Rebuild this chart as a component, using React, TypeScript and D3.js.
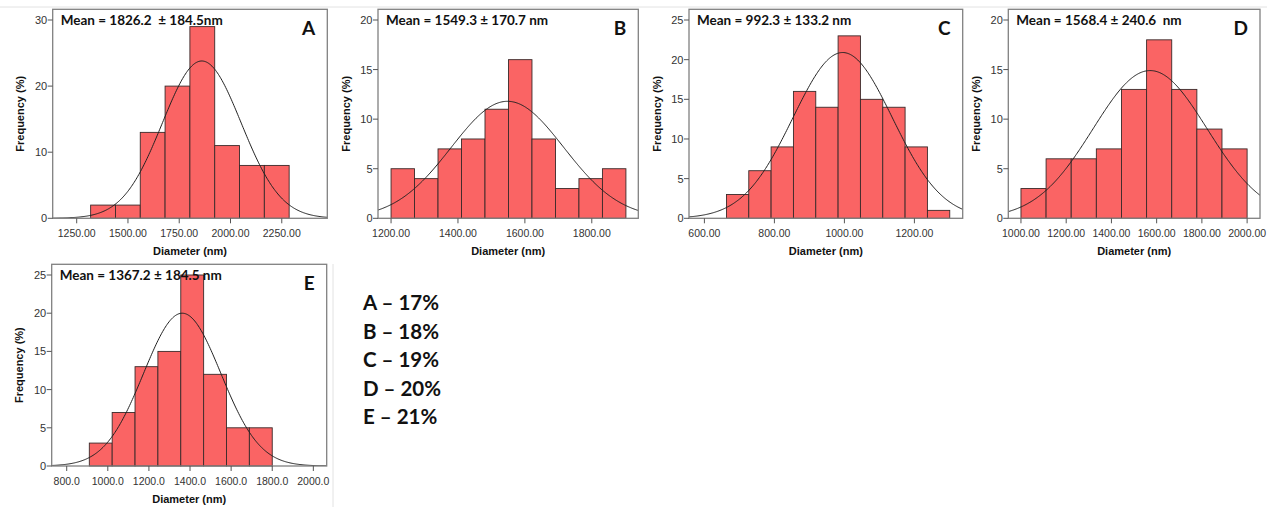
import * as d3 from "d3";

// ---- data ----
const panelIds = ["A", "B", "C", "D", "E"];
const meanLabels = [
  "Mean = 1826.2  ± 184.5nm",
  "Mean = 1549.3 ± 170.7 nm",
  "Mean = 992.3 ± 133.2 nm",
  "Mean = 1568.4 ± 240.6  nm",
  "Mean = 1367.2 ± 184.5 nm",
];

const freqA = [2, 2, 13, 20, 29, 11, 8, 8];
const freqB = [5, 4, 7, 8, 11, 16, 8, 3, 4, 5];
const freqC = [3, 6, 9, 16, 14, 23, 15, 14, 9, 1];
const freqD = [3, 6, 6, 7, 13, 18, 13, 9, 7];
const freqE = [3, 7, 13, 15, 25, 12, 5, 5];
const frequencies = [freqA, freqB, freqC, freqD, freqE];

// first / last bin edge (nm)
const binStarts = [1318, 1200, 663, 1000, 910];
const binEnds = [2286, 1902, 1301, 2000, 1800];

// fitted normal curve: centre, spread, height (%)
const curveMeans = [1860, 1548, 995, 1571, 1362];
const curveSds = [192, 168, 142, 252, 188];
const curvePeaks = [23.8, 11.8, 20.9, 14.9, 20.0];

const xDomains = [
  [1133, 2472],
  [1161, 1939],
  [556, 1338],
  [944, 2057],
  [727, 2065],
];
const xTicksA = [1250, 1500, 1750, 2000, 2250];
const xTicksB = [1200, 1400, 1600, 1800];
const xTicksC = [600, 800, 1000, 1200];
const xTicksD = [1000, 1200, 1400, 1600, 1800, 2000];
const xTicksE = [800, 1000, 1200, 1400, 1600, 1800, 2000];
const xTicks = [xTicksA, xTicksB, xTicksC, xTicksD, xTicksE];
const xTickFormats = [".2f", ".2f", ".2f", ".2f", ".1f"];

const yTicksA = [0, 10, 20, 30];
const yTicksB = [0, 5, 10, 15, 20];
const yTicksC = [0, 5, 10, 15, 20, 25];
const yTicksD = [0, 5, 10, 15, 20];
const yTicksE = [0, 5, 10, 15, 20, 25];
const yTicks = [yTicksA, yTicksB, yTicksC, yTicksD, yTicksE];

const legendLines = ["A – 17%", "B – 18%", "C – 19%", "D – 20%", "E – 21%"];

// ---- layout ----
const W = 1267;
const H = 507;
const frames = [
  { x0: 52.7, x1: 327.3, y0: 9.3, y1: 218.3 },
  { x0: 378, x1: 638.3, y0: 9.3, y1: 218.3 },
  { x0: 689, x1: 962.7, y0: 9.3, y1: 218.3 },
  { x0: 1008.3, x1: 1260, y0: 9.3, y1: 218.3 },
  { x0: 51.7, x1: 326.7, y0: 264.3, y1: 466 },
];
const barFill = "#fa6464";
const axisFont = "'Liberation Sans', Arial, sans-serif";
const labelFont = "Lato, 'Open Sans', sans-serif";

function Panel({ i }: { i: number }) {
  const f = frames[i];
  const freq = frequencies[i];
  const yMax = yTicks[i][yTicks[i].length - 1];
  const x = d3.scaleLinear().domain(xDomains[i]).range([f.x0, f.x1]);
  const y = d3.scaleLinear().domain([0, yMax]).range([f.y1, f.y0 + 10.7]);
  const binW = (binEnds[i] - binStarts[i]) / freq.length;
  const fmt = d3.format(xTickFormats[i]);

  const mu = curveMeans[i];
  const sd = curveSds[i];
  const pts = d3
    .range(0, 301)
    .map((k) => xDomains[i][0] + ((xDomains[i][1] - xDomains[i][0]) * k) / 300);
  const line = d3
    .line<number>()
    .x((d) => x(d))
    .y((d) => y(curvePeaks[i] * Math.exp(-((d - mu) ** 2) / (2 * sd * sd))));

  const clipId = `clip-${panelIds[i]}`;
  const cx = (f.x0 + f.x1) / 2;
  const cy = (f.y0 + f.y1) / 2;

  return (
    <g>
      <defs>
        <clipPath id={clipId}>
          <rect x={f.x0} y={f.y0} width={f.x1 - f.x0} height={f.y1 - f.y0} />
        </clipPath>
      </defs>
      <rect x={f.x0} y={f.y0} width={f.x1 - f.x0} height={f.y1 - f.y0} fill="#fff" />
      {freq.map((v, k) => {
        const a = binStarts[i] + k * binW;
        return (
          <rect
            key={k}
            x={x(a)}
            y={y(v)}
            width={x(a + binW) - x(a)}
            height={y(0) - y(v)}
            fill={barFill}
            stroke="#3a2a2a"
            strokeWidth={0.9}
          />
        );
      })}
      <path
        d={line(pts) ?? ""}
        fill="none"
        stroke="#222"
        strokeWidth={1}
        clipPath={`url(#${clipId})`}
      />
      <rect
        x={f.x0}
        y={f.y0}
        width={f.x1 - f.x0}
        height={f.y1 - f.y0}
        fill="none"
        stroke="#808080"
        strokeWidth={1.3}
      />
      {yTicks[i].map((t) => (
        <g key={t}>
          <line x1={f.x0 - 5} x2={f.x0} y1={y(t)} y2={y(t)} stroke="#555" />
          <text
            x={f.x0 - 5.5}
            y={y(t)}
            dy="0.36em"
            textAnchor="end"
            fontFamily={axisFont}
            fontSize={11}
            fill="#333"
          >
            {t}
          </text>
        </g>
      ))}
      {xTicks[i].map((t) => (
        <g key={t}>
          <line x1={x(t)} x2={x(t)} y1={f.y1} y2={f.y1 + 5} stroke="#555" />
          <text
            x={x(t)}
            y={f.y1 + 18.5}
            textAnchor="middle"
            fontFamily={axisFont}
            fontSize={10.5}
            fill="#333"
          >
            {fmt(t)}
          </text>
        </g>
      ))}
      <text
        x={cx}
        y={f.y1 + 36.5}
        textAnchor="middle"
        fontFamily={axisFont}
        fontWeight="bold"
        fontSize={11}
        fill="#111"
      >
        Diameter (nm)
      </text>
      <text
        transform={`translate(${f.x0 - 28.5},${cy}) rotate(-90)`}
        textAnchor="middle"
        fontFamily={axisFont}
        fontWeight="bold"
        fontSize={11}
        fill="#111"
      >
        Frequency (%)
      </text>
      <text
        x={f.x0 + 8}
        y={f.y0 + 16}
        fontFamily={labelFont}
        fontWeight="bold"
        fontSize={13.5}
        fill="#111"
        style={{ whiteSpace: "pre" }}
      >
        {meanLabels[i]}
      </text>
      <text
        x={f.x1 - 12}
        y={f.y0 + 26}
        textAnchor="end"
        fontFamily={labelFont}
        fontWeight="bold"
        fontSize={19}
        fill="#111"
      >
        {panelIds[i]}
      </text>
    </g>
  );
}

export default function App() {
  return (
    <div style={{ position: "fixed", left: 0, top: 0 }}>
      <svg width={W} height={H} style={{ display: "block", background: "#fff" }}>
        <line x1={0} x2={W} y1={7} y2={7} stroke="#e2e2e2" />
        <line x1={333} x2={333} y1={264} y2={H} stroke="#e2e2e2" />
        {panelIds.map((id, i) => (
          <Panel key={id} i={i} />
        ))}
        {legendLines.map((s, k) => (
          <text
            key={s}
            x={363}
            y={310 + k * 28.5}
            fontFamily={labelFont}
            fontWeight="bold"
            fontSize={20.5}
            fill="#111"
          >
            {s}
          </text>
        ))}
      </svg>
    </div>
  );
}
